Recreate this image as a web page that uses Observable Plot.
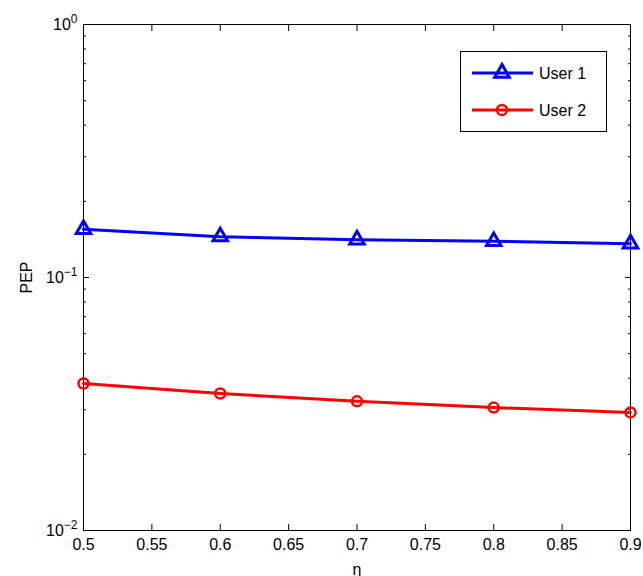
<!DOCTYPE html>
<html><head><meta charset="utf-8">
<script src="https://cdn.jsdelivr.net/npm/d3@7"></script>
<script src="https://cdn.jsdelivr.net/npm/@observablehq/plot@0.6"></script>
<style>
body{margin:0;background:#fff;font-family:"Liberation Sans",Arial,sans-serif}
#wrap{position:relative;width:643px;height:576px}
#legend{position:absolute;left:460px;top:51px}
</style></head><body><div id="wrap"></div>
<script>
const eta = [0.5, 0.6, 0.7, 0.8, 0.9];
const user1 = [0.155, 0.145, 0.141, 0.139, 0.136];
const user2 = [0.0381, 0.0348, 0.0324, 0.0306, 0.0293];
const seriesNames = ["User 1", "User 2"];
const seriesColors = ["#0000ff", "#ff0000"];
const seriesSymbols = ["triangle", "circle"];
const xTicks = [0.5, 0.55, 0.6, 0.65, 0.7, 0.75, 0.8, 0.85, 0.9];
const xTickLabels = ["0.5", "0.55", "0.6", "0.65", "0.7", "0.75", "0.8", "0.85", "0.9"];
const yMajor = [0.01, 0.1, 1];
const yMajorLabels = ["10|−2", "10|−1", "10|0"];
const yMinor = [0.02,0.03,0.04,0.05,0.06,0.07,0.08,0.09,0.2,0.3,0.4,0.5,0.6,0.7,0.8,0.9];

const rows = [];
[user1, user2].forEach((vals, s) => vals.forEach((v, i) => rows.push({eta: eta[i], pep: v, s})));
const bySeries = s => rows.filter(r => r.s === s);

const font = "Liberation Sans, Arial, Helvetica, sans-serif";
const plot = Plot.plot({
  width: 643, height: 576,
  marginLeft: 83, marginRight: 13, marginTop: 24, marginBottom: 46,
  style: {fontFamily: font, fontSize: "16px", background: "white", color: "black"},
  x: {domain: [0.5, 0.9]},
  y: {type: "log", domain: [0.01, 1]},
  marks: [
    Plot.axisX(xTicks, {anchor: "bottom", tickSize: -6, tickPadding: 14, tickFormat: (d) => xTickLabels[xTicks.indexOf(d)], label: "η", labelAnchor: "center", labelArrow: "none", labelOffset: 44}),
    Plot.axisX(xTicks, {anchor: "top", tickSize: -6, tickFormat: () => "", label: null}),
    Plot.axisY(yMajor, {anchor: "left", tickSize: -6, tickPadding: 12, tickFormat: d => yMajorLabels[yMajor.indexOf(d)], label: "PEP", labelAnchor: "center", labelArrow: "none", labelOffset: 63}),
    Plot.axisY(yMinor, {anchor: "left", tickSize: -3, tickFormat: () => "", label: null}),
    Plot.axisY(yMajor, {anchor: "right", tickSize: -6, tickFormat: () => "", label: null}),
    Plot.axisY(yMinor, {anchor: "right", tickSize: -3, tickFormat: () => "", label: null}),
    Plot.frame({stroke: "black", strokeWidth: 1}),
    ...[0, 1].map(s => Plot.line(bySeries(s), {x: "eta", y: "pep", stroke: seriesColors[s], strokeWidth: 3})),
    Plot.dot(bySeries(0), {x: "eta", y: "pep", symbol: "triangle", r: 5.4, fill: "none", stroke: seriesColors[0], strokeWidth: 3}),
    Plot.dot(bySeries(1), {x: "eta", y: "pep", symbol: "circle", r: 5, fill: "none", stroke: seriesColors[1], strokeWidth: 2.5})
  ]
});
const wrap = document.getElementById("wrap");
wrap.appendChild(plot);

// superscript exponents on log labels
d3.select(plot).selectAll("text").each(function() {
  const t = this.textContent;
  if (!t.includes("|")) return;
  const [base, exp] = t.split("|");
  const sel = d3.select(this);
  while (this.firstChild) this.removeChild(this.firstChild);
  sel.append("tspan").text(base);
  sel.append("tspan").attr("dy", "-0.55em").attr("font-size", "12px").text(exp);
});

// legend
const lg = d3.select(wrap).append("svg").attr("id", "legend").attr("width", 147).attr("height", 82);
lg.append("rect").attr("x", 0.5).attr("y", 0.5).attr("width", 146).attr("height", 80).attr("fill", "white").attr("stroke", "black");
seriesNames.forEach((name, i) => {
  const cy = 22 + i * 37;
  const g = lg.append("g");
  g.append("line").attr("x1", 12).attr("x2", 73).attr("y1", cy).attr("y2", cy).attr("stroke", seriesColors[i]).attr("stroke-width", 3);
  const tri = seriesSymbols[i] === "triangle";
  const size = Math.PI * (tri ? 5.4 : 5) ** 2;
  g.append("path").attr("d", d3.symbol(tri ? d3.symbolTriangle : d3.symbolCircle, size)()).attr("transform", `translate(42,${cy})`).attr("fill", "none").attr("stroke", seriesColors[i]).attr("stroke-width", tri ? 3 : 2.5);
  g.append("text").attr("x", 79).attr("y", cy).attr("dy", "0.35em").attr("font-family", font).attr("font-size", "16px").text(name);
});
</script></body></html>
